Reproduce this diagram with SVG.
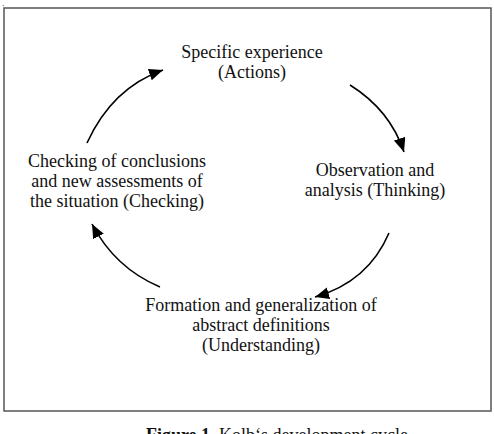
<svg xmlns="http://www.w3.org/2000/svg" width="494" height="434" viewBox="0 0 494 434">
<defs>
<style>
.t{font-family:"Liberation Serif","Times New Roman",serif;font-size:18px;fill:#111;text-anchor:middle}
.c{fill:none;stroke:#000;stroke-width:1.6}
</style>
<marker id="ah" markerUnits="userSpaceOnUse" markerWidth="16" markerHeight="14" refX="14" refY="6" orient="auto">
<path d="M0,0 L14,6 L0,12 Z" fill="#000"/>
</marker>
</defs>
<rect width="494" height="434" fill="#fff"/>
<text x="2" y="6" style="font-family:'Liberation Serif',serif;font-size:9px">.</text>
<rect x="4" y="8" width="487" height="403" fill="none" stroke="#555" stroke-width="1.5"/>
<g id="connectors">
<path class="c" d="M87,143 Q112,88 163,70" marker-end="url(#ah)"/>
<path class="c" d="M350,85 Q390,110 404,152" marker-end="url(#ah)"/>
<path class="c" d="M389,233 Q368,282 315,297" marker-end="url(#ah)"/>
<path class="c" d="M160,287 Q115,268 92,224" marker-end="url(#ah)"/>
</g>
<g id="node-experience">
<text class="t" x="252" y="58">Specific experience</text>
<text class="t" x="252" y="78">(Actions)</text>
</g>
<g id="node-observation">
<text class="t" x="375" y="176">Observation and</text>
<text class="t" x="375" y="196">analysis (Thinking)</text>
</g>
<g id="node-formation">
<text class="t" x="261" y="311">Formation and generalization of</text>
<text class="t" x="261" y="331">abstract definitions</text>
<text class="t" x="261" y="351">(Understanding)</text>
</g>
<g id="node-checking">
<text class="t" x="117" y="167">Checking of conclusions</text>
<text class="t" x="117" y="187">and new assessments of</text>
<text class="t" x="117" y="207">the situation (Checking)</text>
</g>
<text class="t" x="277" y="441"><tspan font-weight="bold">Figure 1.</tspan> Kolb‘s development cycle</text>
</svg>
